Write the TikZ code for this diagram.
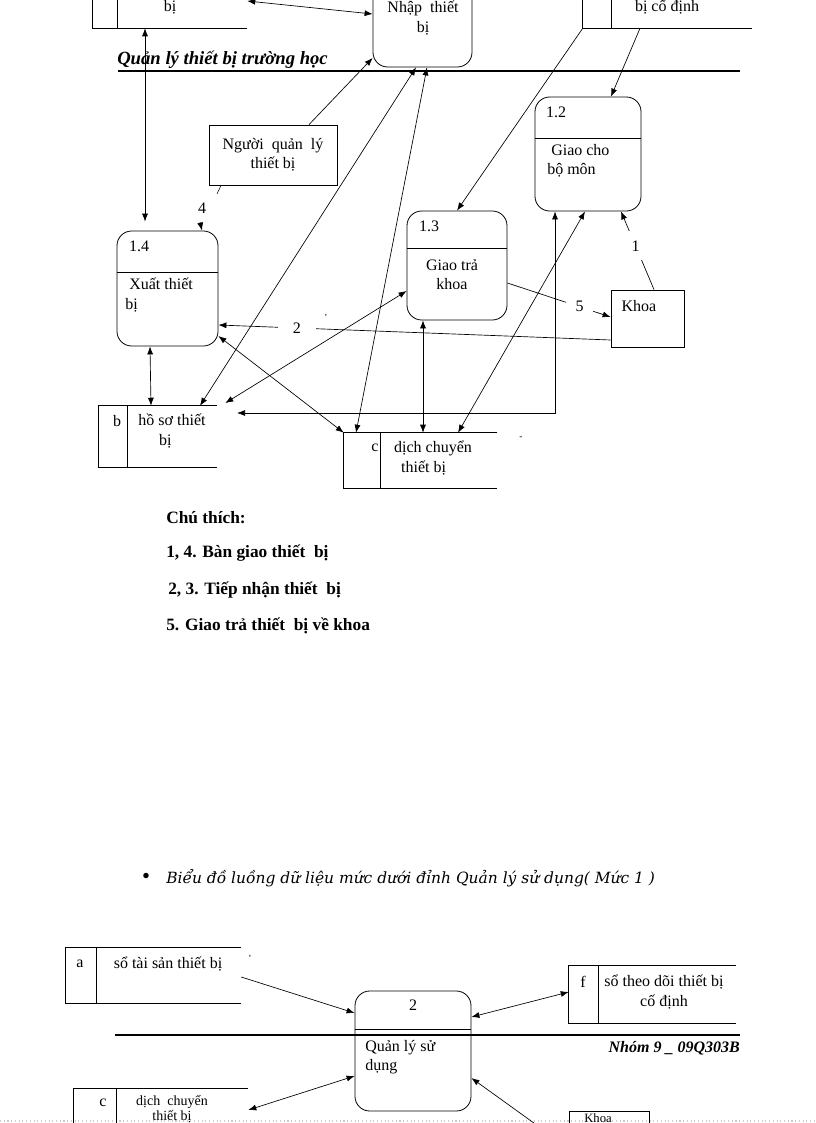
\documentclass[tikz,border=0pt]{standalone}
\usepackage{fontspec}
\setmainfont{Liberation Serif}
\newfontfamily\captionfont{DejaVu Serif}
\usetikzlibrary{shapes.geometric, arrows.meta}
\tikzstyle{process} = [
    rectangle, 
    rounded corners=11pt, 
    draw=black, 
    line width=0.6pt,
    inner sep=0pt
]
\tikzstyle{entity} = [
    rectangle, 
    draw=black, 
    line width=0.6pt,
    inner sep=0pt
]
\tikzstyle{store} = [
    rectangle, 
    inner sep=0pt
]
\tikzstyle{arrow} = [
    line width=0.5pt, 
    ->, 
    >={Latex[length=6pt,width=4.5pt]}
]
\tikzstyle{darrow} = [
    line width=0.5pt, 
    <->, 
    >={Latex[length=6pt,width=4.5pt]}
]
\tikzstyle{flowlabel} = [
    fill=white, 
    inner sep=0pt, 
    minimum width=20pt, 
    minimum height=22pt
]
\tikzstyle{legend} = [
    anchor=west, 
    inner sep=0pt, 
    font=\fontsize{13}{16}\selectfont\bfseries
]

\begin{document}
\begin{tikzpicture}[x=0.75pt, y=-0.75pt, font=\fontsize{12}{14.5}\selectfont]
    \useasboundingbox (0,0) rectangle (816,1123);
    \clip (0,0) rectangle (816,1123);
    \draw[gray!40, dotted, line width=0.8pt] (0,1121) -- (816,1121);

    % header of the page
    \draw[line width=1.6pt] (118,71) -- (740,71);
    \node (header) [anchor=west, inner sep=0pt, font=\fontsize{14}{16}\selectfont\bfseries\itshape] at (117,60) {Quản lý thiết bị trường học};

    % data stores
    \node (storeT) [store, minimum width=115.5pt, minimum height=51pt] at (170,-6) {};
    \draw (storeT.north east) -- (storeT.north west) -- (storeT.south west) -- (storeT.south east);
    \draw (storeT.north -| 117,0) -- (storeT.south -| 117,0);
    \node (storeTtxt) at (170,7) {bị};

    \node (storeF) [store, minimum width=126.75pt, minimum height=51pt] at (667.5,-6) {};
    \draw (storeF.north east) -- (storeF.north west) -- (storeF.south west) -- (storeF.south east);
    \draw (storeF.north -| 611,0) -- (storeF.south -| 611,0);
    \node (storeFtxt) at (667,7) {bị cố định};

    \node (sb) [store, minimum width=88.5pt, minimum height=45.75pt] at (158,436.5) {};
    \draw (sb.north east) -- (sb.north west) -- (sb.south west) -- (sb.south east);
    \draw (sb.north -| 127,0) -- (sb.south -| 127,0);
    \node (sbid) at (117,421) {b};
    \node (sbtxt) [align=center] at (172,431) {hồ sơ thiết\\\hspace*{-10pt}bị};

    \node (sc) [store, minimum width=114.75pt, minimum height=41.25pt] at (420.5,460.5) {};
    \draw (sc.north east) -- (sc.north west) -- (sc.south west) -- (sc.south east);
    \draw (sc.north -| 380,0) -- (sc.south -| 380,0);
    \node (scid) at (375,448) {c};
    \node (sctxt) [align=center] at (433,458) {dịch chuyển\\\hspace*{-14pt}thiết bị};

    % processes
    \node (p11) [process, minimum width=74.25pt, minimum height=87.75pt] at (422.5,8.5) {};
    \node (p11txt) [align=center] at (423,18) {Nhập~ thiết\\bị};

    \node (p12) [process, minimum width=79.5pt, minimum height=85.5pt] at (588,154) {};
    \draw (p12.west |- 0,138) -- (p12.east |- 0,138);
    \node (p12id) at (556,112) {1.2};
    \node (p12txt) [anchor=west, align=left, inner sep=0pt] at (547,161) {~Giao cho\\bộ môn};

    \node (p13) [process, minimum width=75pt, minimum height=81.75pt] at (457,265.5) {};
    \draw (p13.west |- 0,248) -- (p13.east |- 0,248);
    \node (p13id) at (429,226) {1.3};
    \node (p13txt) [align=center] at (452,275) {Giao trả\\khoa};

    \node (p14) [process, minimum width=75.75pt, minimum height=86.25pt] at (167.5,288.5) {};
    \draw (p14.west |- 0,272) -- (p14.east |- 0,272);
    \node (p14id) at (139,246) {1.4};
    \node (p14txt) [anchor=west, align=left, inner sep=0pt] at (125,295) {~Xuất thiết\\bị};

    % external entities
    \node (ql) [entity, minimum width=96pt, minimum height=45pt, align=center] at (273,155) {Người~ quản~ lý\\thiết bị};
    \node (khoa) [entity, minimum width=54.75pt, minimum height=42.75pt] at (647.5,318.5) {};
    \node (khoatxt) at (639,306) {Khoa};

    % flows
    \coordinate (f4a) at (217,194);
    \coordinate (f4b) at (200,222);
    \coordinate (sbin) at (237,413);
    \draw[darrow] (storeT.east |- 0,1) -- (p11.west |- 0,14);
    \draw[darrow] (storeT.south -| 145,0) -- ([yshift=6.75pt]p14.north -| 145,0);
    \draw[arrow] (ql.north -| 309,0) -- (p11.west |- 0,58);
    \draw (ql.south -| 221,0) -- (f4a);
    \node (lab4) at (202,208) {4};
    \draw[arrow] (f4b) -- (p14.north -| 202,0);
    \draw[darrow] (p11.south -| 416,0) -- (sb.north -| 200,0);
    \draw[darrow] (p11.south -| 427,0) -- (sc.north -| 356,0);
    \draw[arrow] (storeF.south west) -- (p13.north -| 457,0);
    \draw[arrow] (storeF.south -| 640,0) -- (p12.north -| 611,0);
    \draw[arrow] (khoa.north -| 654,0) -- node[flowlabel, pos=0.56] {1} (p12.south -| 621,0);
    \draw[arrow] (p13.east |- 0,283) -- node[flowlabel, pos=0.7, minimum height=14pt] {5} (khoa.west |- 0,317);
    \draw[arrow] (khoa.west |- 0,340) -- node[flowlabel, pos=0.8, minimum width=28pt] {2} (p14.east |- 0,325);
    \draw[darrow] (p12.south -| 555,0) |- (sbin);
    \draw[darrow] (p12.south -| 585,0) -- (sc.north -| 458,0);
    \draw[darrow] (p13.south -| 423,0) -- (sc.north -| 423,0);
    \draw[darrow] (p13.west |- 0,291) -- ([xshift=6pt,yshift=2pt]sb.north east);
    \draw[darrow] (p14.east |- 0,336) -- (sc.north west);
    \draw[darrow] (p14.south -| 150,0) -- (sb.north -| 151,0);
    \node (tick1) at (326,317) {\scriptsize '};
    \node (tick2) at (521,438) {\scriptsize -};

    % legend
    \node (leg0) [legend] at (166,518) {Chú thích:};
    \node (leg1) [legend] at (166,553) {1, 4. Bàn giao thiết~ bị};
    \node (leg2) [legend] at (168,590) {2, 3. Tiếp nhận thiết~ bị};
    \node (leg3) [legend] at (166,626) {5. Giao trả thiết~ bị về khoa};

    % second diagram
    \node (dot) at (146,878) {\fontsize{17}{17}\selectfont\textbullet};
    \node (title2) [anchor=west, inner sep=0pt, font=\captionfont\fontsize{11.6}{13}\selectfont\itshape] at (166,878) {Biểu đồ luồng dữ liệu mức dưới đỉnh Quản lý sử dụng( Mức 1 )};

    \node (sa2) [store, minimum width=131.25pt, minimum height=41.25pt] at (153.5,975.5) {};
    \draw (sa2.north east) -- (sa2.north west) -- (sa2.south west) -- (sa2.south east);
    \draw (sa2.north -| 96,0) -- (sa2.south -| 96,0);
    \node (sa2id) at (80,964) {a};
    \node (sa2txt) at (168,964) {sổ tài sản thiết bị};
    \node (tick3) at (250,958) {\scriptsize ’};

    \node (sf2) [store, minimum width=125.25pt, minimum height=42.75pt] at (652.5,994.5) {};
    \draw (sf2.north east) -- (sf2.north west) -- (sf2.south west) -- (sf2.south east);
    \draw (sf2.north -| 598,0) -- (sf2.south -| 598,0);
    \node (sf2id) at (583,982) {f};
    \node (sf2txt) [align=center] at (664,992) {sổ theo dõi thiết bị\\cố định};

    \node (sc2) [store, minimum width=130.5pt, minimum height=45.75pt] at (161,1119.5) {};
    \draw (sc2.north east) -- (sc2.north west) -- (sc2.south west) -- (sc2.south east);
    \draw (sc2.north -| 116,0) -- (sc2.south -| 116,0);
    \node (sc2id) at (103,1103) {c};
    \node (sc2txt) [align=center, font=\fontsize{10.5}{9.6}\selectfont] at (172,1109) {dịch~ chuyển\\thiết bị};

    \node (p2) [process, minimum width=87pt, minimum height=90pt] at (413,1051) {};
    \draw (p2.west |- 0,1029) -- (p2.east |- 0,1029);
    \node (p2id) at (413,1005) {2};
    \node (p2txt) [anchor=west, align=left, inner sep=0pt] at (365,1057) {Quản lý sử\\dụng};

    \node (k2) [entity, minimum width=60pt, minimum height=44.25pt] at (609,1140.5) {};
    \node (k2txt) [font=\fontsize{9.5}{11}\selectfont] at (598,1118) {Khoa};

    \draw[line width=1.6pt] (115,1035) -- (740,1035);
    \node (footer) [anchor=east, inner sep=0pt, font=\fontsize{12}{14}\selectfont\bfseries\itshape] at (740,1048) {Nhóm 9 \_ 09Q303B};

    \draw[arrow] (sa2.east |- 0,977) -- (p2.west |- 0,1013);
    \draw[darrow] (sf2.west |- 0,992) -- (p2.east |- 0,1017);
    \draw[darrow] (sc2.east |- 0,1110) -- (p2.west |- 0,1076);
    \draw[arrow] (k2.west |- 0,1148) -- (p2.east |- 0,1078);
\end{tikzpicture}
\end{document}
